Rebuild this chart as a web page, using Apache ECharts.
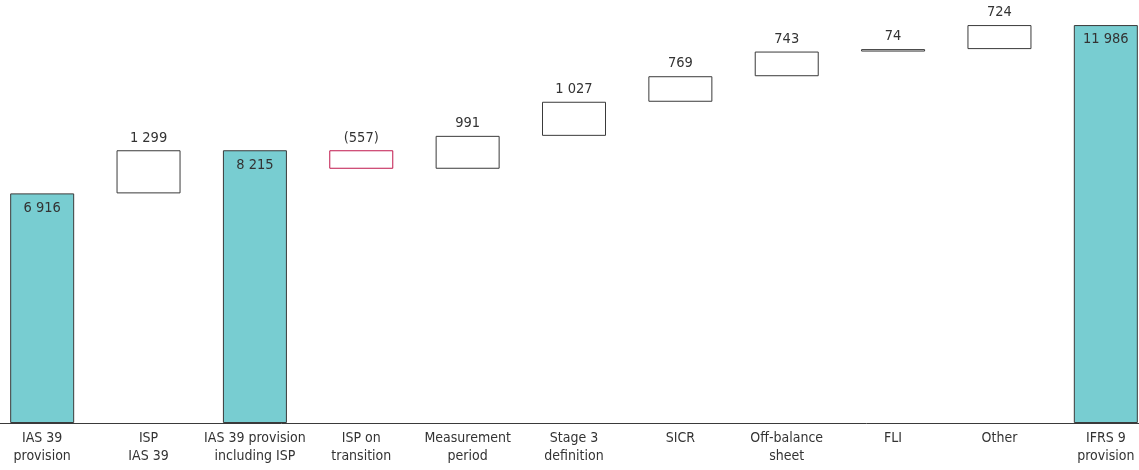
<!DOCTYPE html>
<html><head><meta charset="utf-8">
<script src="https://cdn.jsdelivr.net/npm/echarts@6/dist/echarts.min.js"></script>
<style>html,body{margin:0;padding:0;background:#fff;overflow:hidden;width:1139px;height:470px}
#wrap{position:relative;width:1139px;height:470px;overflow:hidden}
#c{position:absolute;left:-11px;top:0;width:1170px;height:470px}</style>
</head><body><div id="wrap"><div id="c"></div></div>
<script>
const categories = ["IAS 39\nprovision","ISP\nIAS 39","IAS 39 provision\nincluding ISP","ISP on\ntransition","Measurement\nperiod","Stage 3\ndefinition","SICR","Off-balance\nsheet","FLI","Other","IFRS 9\nprovision"];
// step type: 't' = total, 'd' = change
const stepTypes = ["t","d","t","d","d","d","d","d","d","d","t"];
const values = [6916, 1299, 8215, -557, 991, 1027, 769, 743, 74, 724, 11986];

const FONT = "'DejaVu Sans Condensed','Liberation Sans Narrow',sans-serif";
function fmt(v){ const s = Math.abs(v).toString().replace(/\B(?=(\d{3})+(?!\d))/g,' '); return v<0 ? '('+s+')' : s; }

const base=[], totals=[], ups=[], downs=[];
let run=0;
values.forEach((v,i)=>{
  if(stepTypes[i]==='t'){ run=v; base.push(0); totals.push(v); ups.push('-'); downs.push('-'); }
  else if(v>=0){ base.push(run); ups.push(v); totals.push('-'); downs.push('-'); run+=v; }
  else { run+=v; base.push(run); downs.push(-v); totals.push('-'); ups.push('-'); }
});

const chart = echarts.init(document.getElementById('c'));
const lbl = {show:true, fontFamily:FONT, fontSize:14.5, color:'#333'};
chart.setOption({
  animation:false,
  grid:{left:0, right:0, top:24.6, bottom:47},
  xAxis:{type:'category', data:categories,
    axisLine:{lineStyle:{color:'#3a3a3a', width:1}}, axisTick:{show:false},
    axisLabel:{fontFamily:FONT, fontSize:14, color:'#333', lineHeight:18, margin:6, interval:0}},
  yAxis:{type:'value', min:0, max:12000, show:false, splitLine:{show:false}},
  series:[
    {type:'bar', stack:'w', data:base, barWidth:64, itemStyle:{color:'transparent'}, silent:true},
    {type:'bar', stack:'w', data:totals, barWidth:64,
      itemStyle:{color:'#78CDD1', borderColor:'#3a3a3a', borderWidth:1},
      label:Object.assign({position:'insideTop', distance:7, formatter:p=>fmt(p.value)},lbl)},
    {type:'bar', stack:'w', data:ups, barWidth:64,
      itemStyle:{color:'#fff', borderColor:'#3a3a3a', borderWidth:1},
      label:Object.assign({position:'top', distance:5, formatter:p=>fmt(p.value)},lbl)},
    {type:'bar', stack:'w', data:downs, barWidth:64,
      itemStyle:{color:'#fff', borderColor:'#C0174C', borderWidth:1},
      label:Object.assign({position:'top', distance:5, formatter:p=>fmt(-p.value)},lbl)}
  ]
});
</script></body></html>
